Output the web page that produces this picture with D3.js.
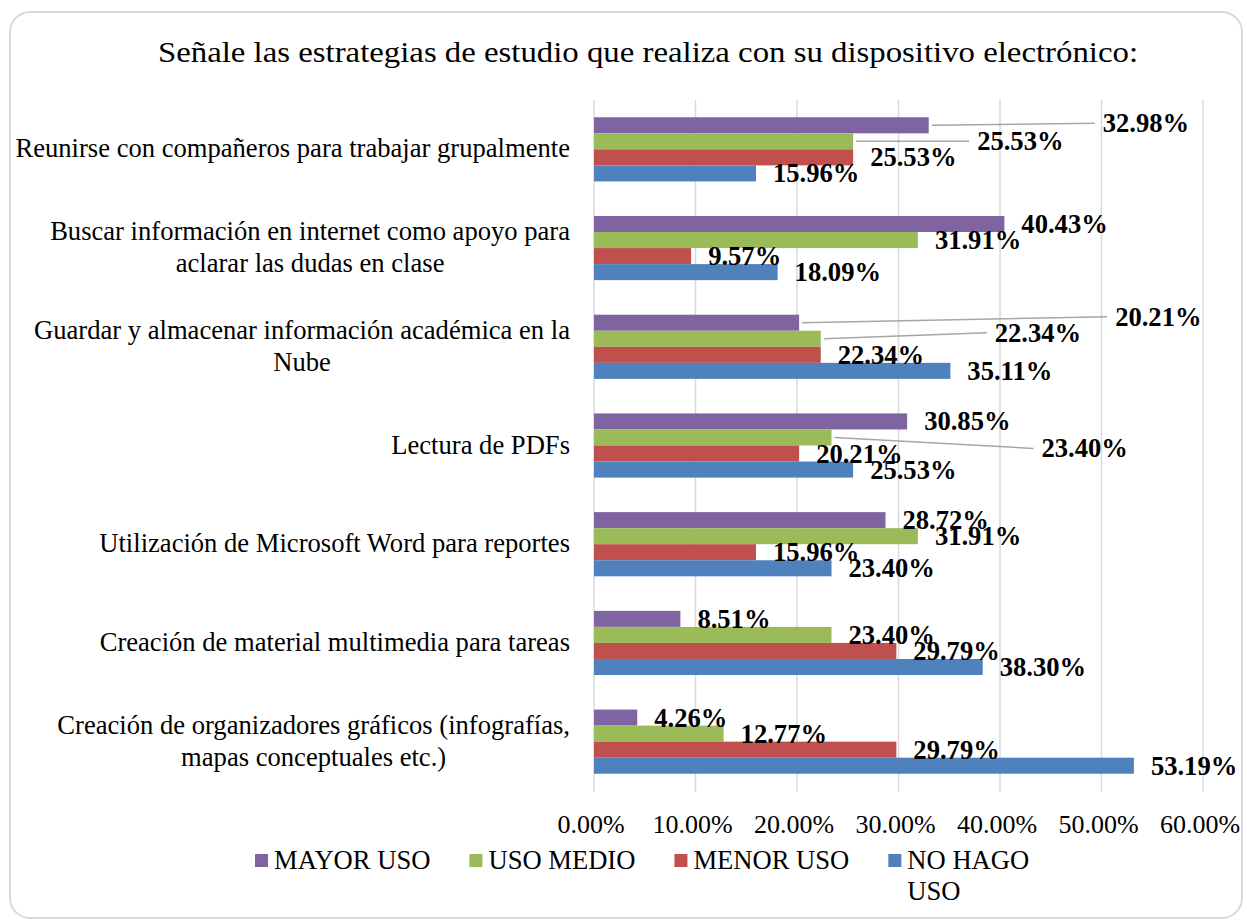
<!DOCTYPE html>
<html>
<head>
<meta charset="utf-8">
<script src="https://cdn.jsdelivr.net/npm/d3@7"></script>
<style>
  body { margin: 0; background: #fff; }
  text { font-family: "Liberation Serif", "Times New Roman", serif; fill: #000; }
</style>
</head>
<body>
<div id="chart"></div>
<script>
const title = 'Señale las estrategias de estudio que realiza con su dispositivo electrónico:'

// categories, top to bottom (label lines as in the original)
const categories = [
  ['Reunirse con compañeros para trabajar grupalmente'],
  ['Buscar información en internet como apoyo para', 'aclarar las dudas en clase'],
  ['Guardar y almacenar información académica en la', 'Nube'],
  ['Lectura de PDFs'],
  ['Utilización de Microsoft Word para reportes'],
  ['Creación de material multimedia para tareas'],
  ['Creación de organizadores gráficos (infografías,', 'mapas conceptuales etc.)']
]

const seriesNames = ['MAYOR USO', 'USO MEDIO', 'MENOR USO', 'NO HAGO USO']
const seriesColors = ['#8064A2', '#9BBB59', '#C0504D', '#4F81BD']

const mayorUso = [32.98, 40.43, 20.21, 30.85, 28.72, 8.51, 4.26]
const usoMedio = [25.53, 31.91, 22.34, 23.40, 31.91, 23.40, 12.77]
const menorUso = [25.53, 9.57, 22.34, 20.21, 15.96, 29.79, 29.79]
const noHagoUso = [15.96, 18.09, 35.11, 25.53, 23.40, 38.30, 53.19]

const xTicks = [0, 10, 20, 30, 40, 50, 60]

// labels that were dragged away from their bar (drawn with a leader line)
const labelMoves = [
  { cat: 0, s: 0, dx: 157, dy: -2 },
  { cat: 0, s: 1, dx: 107, dy: 0 },
  { cat: 2, s: 0, dx: 299, dy: -6 },
  { cat: 2, s: 1, dx: 157, dy: -6 },
  { cat: 3, s: 1, dx: 193, dy: 11 }
]

const W = 1247, H = 924
const values = [mayorUso, usoMedio, menorUso, noHagoUso]

const svg = d3.select('#chart').append('svg').attr('width', W).attr('height', H)

svg.append('rect')
  .attr('x', 10).attr('y', 12).attr('width', 1232).attr('height', 906)
  .attr('rx', 20).attr('ry', 20)
  .attr('fill', '#fff').attr('stroke', '#d9d9d9').attr('stroke-width', 2)

svg.append('text')
  .attr('x', 648).attr('y', 62)
  .attr('text-anchor', 'middle')
  .attr('textLength', 980).attr('lengthAdjust', 'spacingAndGlyphs')
  .style('font-size', '30px')
  .text(title)

const x = d3.scaleLinear().domain([0, 60]).range([594, 1203])
const y = d3.scaleBand().domain(d3.range(categories.length)).range([100, 791])
  .paddingInner(0.35).paddingOuter(0.175)
const ySub = d3.scaleBand().domain(d3.range(seriesNames.length)).range([0, y.bandwidth()])

// gridlines
svg.append('g').selectAll('line').data(xTicks).join('line')
  .attr('x1', d => x(d)).attr('x2', d => x(d))
  .attr('y1', 100).attr('y2', 792)
  .attr('stroke', '#d9d9d9').attr('stroke-width', 1.5)

// x tick labels
svg.append('g').selectAll('text').data(xTicks).join('text')
  .attr('x', d => x(d) - 3).attr('y', 833)
  .attr('text-anchor', 'middle')
  .style('font-size', '26px')
  .text(d => d3.format('.2f')(d) + '%')

// category labels
const catG = svg.append('g')
categories.forEach((lines, i) => {
  const cy = y(i) + y.bandwidth() / 2
  const lh = 32
  const t = catG.append('text').style('font-size', '26.6px').attr('text-anchor', 'middle')
  const spans = lines.map((ln, k) => t.append('tspan')
    .attr('y', cy + 8 + (k - (lines.length - 1) / 2) * lh)
    .text(ln))
  const wMax = d3.max(spans, s => s.node().getComputedTextLength())
  spans.forEach(s => s.attr('x', 570 - wMax / 2))
})

// bars
const bars = []
values.forEach((vals, s) => vals.forEach((v, c) => bars.push({ c, s, v })))

svg.append('g').selectAll('rect').data(bars).join('rect')
  .attr('x', x(0))
  .attr('y', d => y(d.c) + ySub(d.s))
  .attr('width', d => x(d.v) - x(0))
  .attr('height', ySub.bandwidth())
  .attr('fill', d => seriesColors[d.s])

// data labels
const labelPos = d => {
  const m = labelMoves.find(m => m.cat === d.c && m.s === d.s)
  return {
    x: x(d.v) + 17 + (m ? m.dx : 0),
    y: y(d.c) + ySub(d.s) + ySub.bandwidth() / 2 + 9 + (m ? m.dy : 0),
    moved: !!m
  }
}

svg.append('g').selectAll('line').data(bars.filter(d => labelPos(d).moved)).join('line')
  .attr('x1', d => x(d.v) + 3)
  .attr('y1', d => y(d.c) + ySub(d.s) + ySub.bandwidth() / 2)
  .attr('x2', d => labelPos(d).x - 8)
  .attr('y2', d => labelPos(d).y - 9)
  .attr('stroke', '#a6a6a6').attr('stroke-width', 1.5)

svg.append('g').selectAll('text').data(bars).join('text')
  .attr('x', d => labelPos(d).x)
  .attr('y', d => labelPos(d).y)
  .style('font-size', '26.6px').style('font-weight', 'bold')
  .text(d => d3.format('.2f')(d.v) + '%')

// legend
const leg = svg.append('g')
let lx = 255
seriesNames.forEach((name, i) => {
  leg.append('rect').attr('x', lx).attr('y', 854).attr('width', 13).attr('height', 13)
    .attr('fill', seriesColors[i])
  const lines = i === 3 ? ['NO HAGO', 'USO'] : [name]
  const t = leg.append('text').style('font-size', '26.6px')
  lines.forEach((ln, k) => t.append('tspan').attr('x', lx + 19).attr('y', 869 + k * 31).text(ln))
  lx += 19 + t.node().getBBox().width + 39
})
</script>
</body>
</html>
